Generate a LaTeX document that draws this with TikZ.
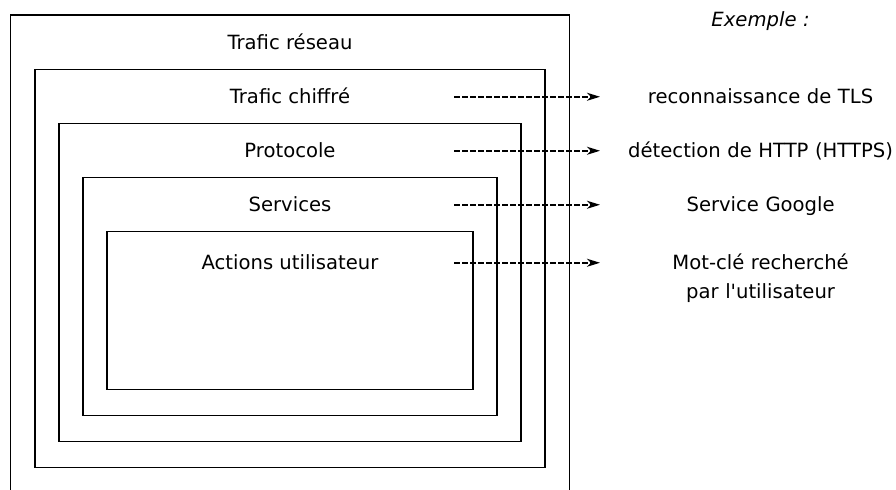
\documentclass[tikz,border=0pt]{standalone}
\usepackage{fontspec}
\setmainfont{DejaVu Sans}
\usepackage{tikz}
\usetikzlibrary{positioning,arrows.meta}
\tikzset{
layer/.style 2 args={
  draw, inner sep=0pt, anchor=north,
  minimum width=#1, minimum height=#2
  },
open bottom/.style={
  draw=none,
  append after command={
      (\tikzlastnode.south west)
  edge[line cap=rect](\tikzlastnode.north west)
      (\tikzlastnode.north west)
  edge[line cap=rect](\tikzlastnode.north east)
      (\tikzlastnode.north east)
  edge[line cap=rect](\tikzlastnode.south east)
  }
  },
lbl/.style={
  inner sep=0pt, text height=7.15pt, text depth=0pt
  },
ex/.style={
  lbl, text width=160pt, align=center
  },
dasharrow/.style={
  line width=0.75pt, dash pattern=on 2.9pt off 1.1pt,
  -{Stealth[length=6.5pt,width=4pt,inset=2pt]}
  }
}

\begin{document}
\begin{tikzpicture}[x=0.5pt,y=-0.5pt,line width=0.6pt,
  every node/.style={font=\fontsize{9.8pt}{14.15pt}\selectfont}]
\useasboundingbox (0,0) rectangle (896,489);

% layers

\node[layer={279pt}{240pt}, open bottom] at (290,15) (box1) {};
\node[layer={255pt}{199pt}, below=27pt of box1.north] (box2) {};
\node[layer={231pt}{159pt}, below=27pt of box2.north] (box3) {};
\node[layer={207pt}{119pt}, below=27pt of box3.north] (box4) {};
\node[layer={183pt}{79pt}, below=27pt of box4.north] (box5) {};

\node[lbl, below=10pt of box1.north] (lbl1) {Trafic réseau};
\node[lbl, below=10pt of box2.north] (lbl2) {Trafic chiffré};
\node[lbl, below=10pt of box3.north] (lbl3) {Protocole};
\node[lbl, below=10pt of box4.north] (lbl4) {Services};
\node[lbl, below=12pt of box5.north] (lbl5) {Actions utilisateur};

% examples

\coordinate (tail) at (454,0);
\coordinate (head) at (600,0);

\node[ex, anchor=west] at (lbl2 -| head) (ex1) {reconnaissance de TLS};
\node[ex, anchor=west] at (lbl3 -| head) (ex2) {détection de HTTP (HTTPS)};
\node[ex, anchor=west] at (lbl4 -| head) (ex3) {Service Google};
\node[ex, anchor=north west] at (lbl5.north -| head) (ex4)
{Mot-clé recherché\\par l\textquotesingle utilisateur};

\node[ex, above=31pt of ex1] (exemple) {\itshape Exemple :};

\draw[dasharrow] (lbl2 -| tail) -- (ex1);
\draw[dasharrow] (lbl3 -| tail) -- (ex2);
\draw[dasharrow] (lbl4 -| tail) -- (ex3);
\draw[dasharrow] (lbl5 -| tail) -- (lbl5 -| ex4.west);

\end{tikzpicture}
\end{document}
